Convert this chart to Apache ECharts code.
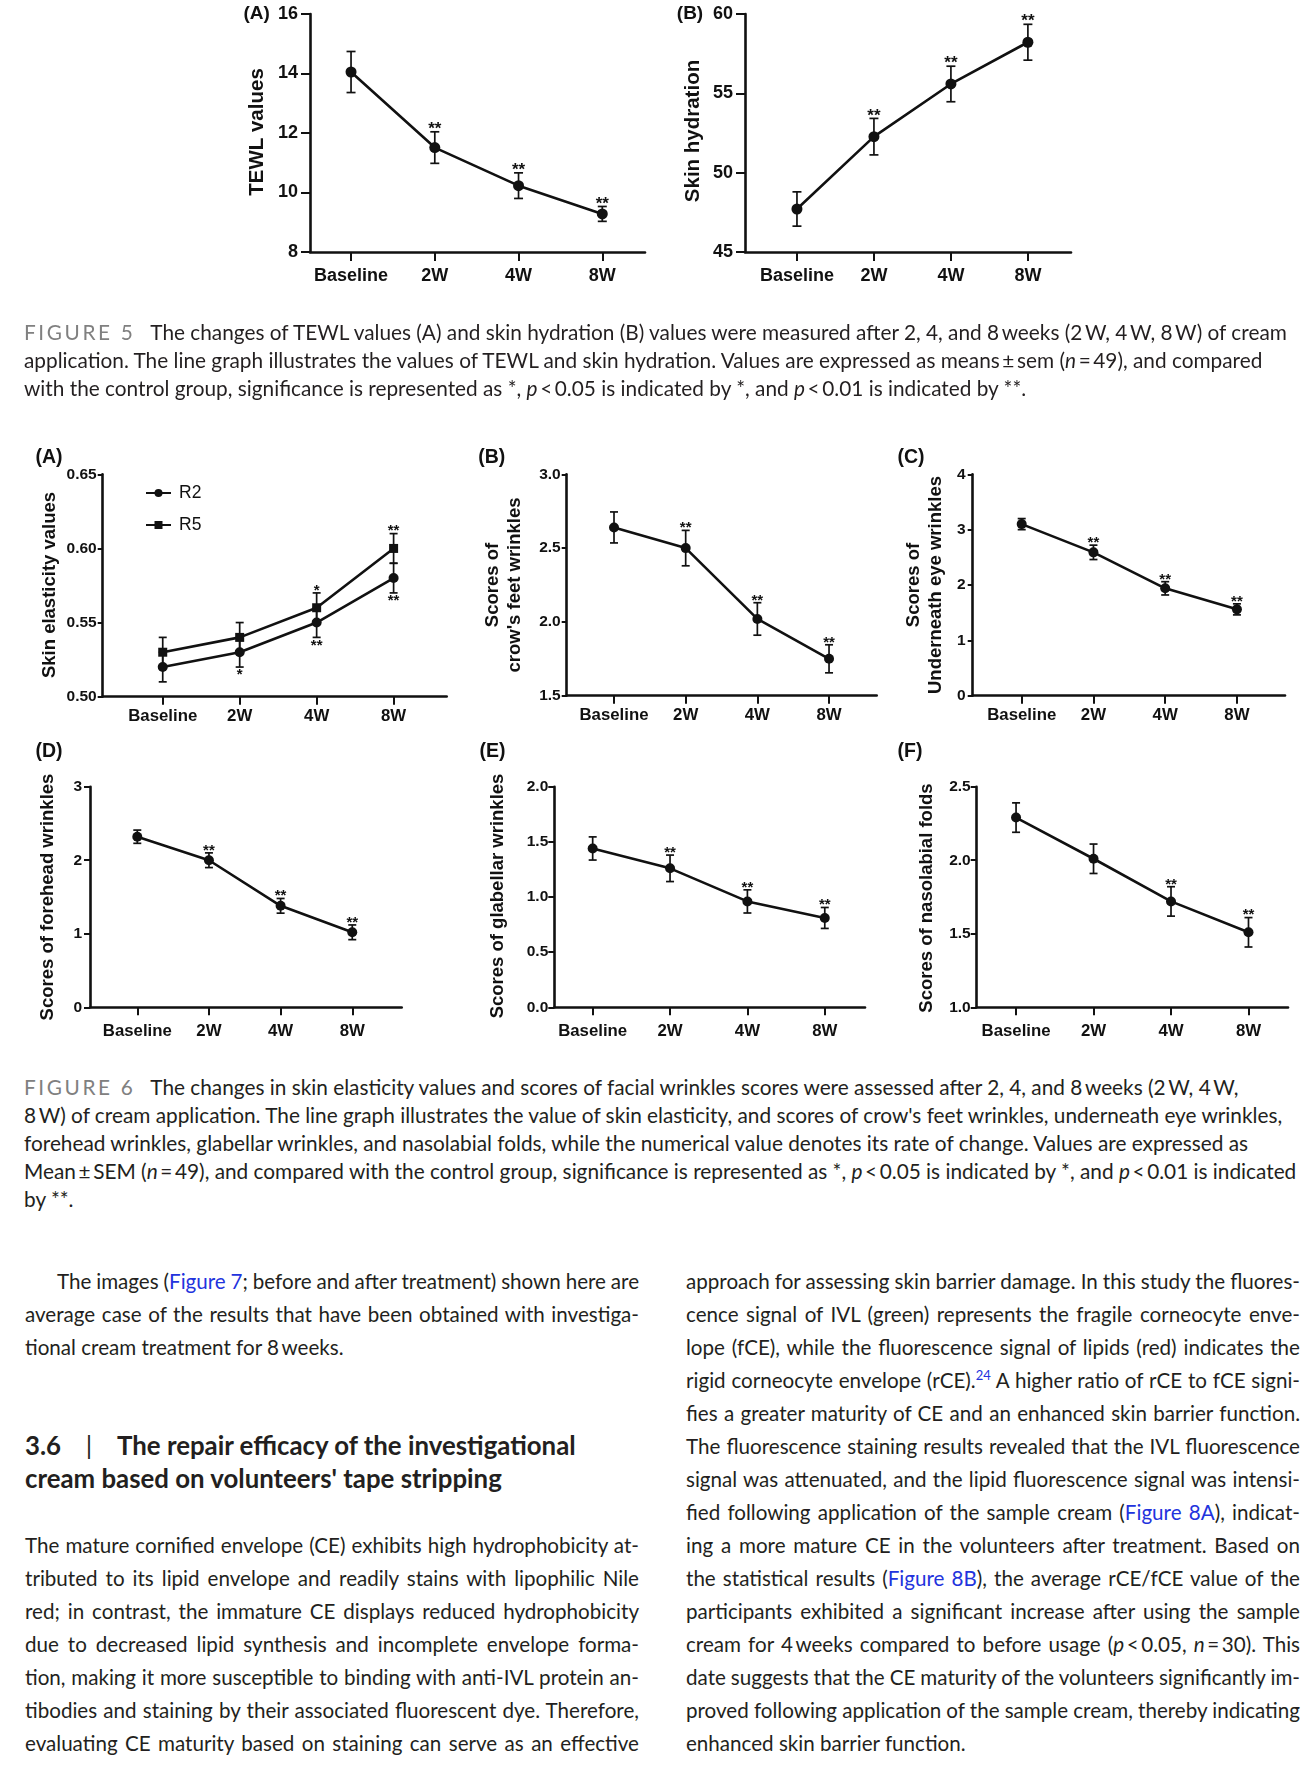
<!DOCTYPE html>
<html>
<head>
<meta charset="utf-8">
<script src="https://cdn.jsdelivr.net/npm/echarts@6/dist/echarts.min.js"></script>
<style>
  html,body{margin:0;padding:0;background:#fff;}
  #page{position:relative;width:1310px;height:1787px;overflow:hidden;background:#fff;}
  #chart{position:absolute;left:0;top:0;width:1310px;height:1060px;}
  .cap{position:absolute;left:24px;font-family:Lato,'Open Sans',sans-serif;font-size:20.8px;line-height:28px;color:#231f20;white-space:nowrap;}
  .fl{color:#808080;letter-spacing:2.6px;margin-right:15px;}
  .col{position:absolute;width:614px;font-family:Lato,'Open Sans',sans-serif;font-size:20.6px;line-height:33px;color:#231f20;}
  .col > div{white-space:nowrap;text-align:left;}
  .ind{padding-left:32px;}
  a{color:#2233dd;text-decoration:none;}
  sup{font-size:13px;line-height:0;color:#2233dd;}
  .hd{position:absolute;left:25px;width:640px;font-family:Lato,'Open Sans',sans-serif;font-size:25.8px;font-weight:700;line-height:33px;color:#231f20;white-space:nowrap;}
  .bar{display:inline-block;width:56px;text-align:center;font-weight:400;}
</style>
</head>
<body>
<div id="page">
<div id="chart"></div>

<div class="cap" style="top:318px">
<div><span class="fl">FIGURE 5</span>The changes of TEWL values (A) and skin hydration (B) values were measured after 2, 4, and 8&#8201;weeks (2&#8201;W, 4&#8201;W, 8&#8201;W) of cream</div>
<div>application. The line graph illustrates the values of TEWL and skin hydration. Values are expressed as means&#8201;±&#8201;sem (<i>n</i>&#8201;=&#8201;49), and compared</div>
<div>with the control group, significance is represented as *, <i>p</i>&#8201;&lt;&#8201;0.05 is indicated by *, and <i>p</i>&#8201;&lt;&#8201;0.01 is indicated by **.</div>
</div>

<div class="cap" style="top:1073px">
<div><span class="fl">FIGURE 6</span>The changes in skin elasticity values and scores of facial wrinkles scores were assessed after 2, 4, and 8&#8201;weeks (2&#8201;W, 4&#8201;W,</div>
<div>8&#8201;W) of cream application. The line graph illustrates the value of skin elasticity, and scores of crow's feet wrinkles, underneath eye wrinkles,</div>
<div>forehead wrinkles, glabellar wrinkles, and nasolabial folds, while the numerical value denotes its rate of change. Values are expressed as</div>
<div>Mean&#8201;±&#8201;SEM (<i>n</i>&#8201;=&#8201;49), and compared with the control group, significance is represented as *, <i>p</i>&#8201;&lt;&#8201;0.05 is indicated by *, and <i>p</i>&#8201;&lt;&#8201;0.01 is indicated</div>
<div>by **.</div>
</div>

<div class="col" style="left:25px;top:1265px">
<div class="j ind">The images (<a>Figure 7</a>; before and after treatment) shown here are</div>
<div class="j">average case of the results that have been obtained with investiga-</div>
<div>tional cream treatment for 8&#8201;weeks.</div>
</div>

<div class="hd" style="top:1429px">
<div><span>3.6</span><span class="bar">|</span>The repair efficacy of the investigational</div>
<div>cream based on volunteers' tape stripping</div>
</div>

<div class="col" style="left:25px;top:1529px">
<div class="j">The mature cornified envelope (CE) exhibits high hydrophobicity at-</div>
<div class="j">tributed to its lipid envelope and readily stains with lipophilic Nile</div>
<div class="j">red; in contrast, the immature CE displays reduced hydrophobicity</div>
<div class="j">due to decreased lipid synthesis and incomplete envelope forma-</div>
<div class="j">tion, making it more susceptible to binding with anti-IVL protein an-</div>
<div class="j">tibodies and staining by their associated fluorescent dye. Therefore,</div>
<div class="j">evaluating CE maturity based on staining can serve as an effective</div>
</div>

<div class="col" style="left:686px;top:1265px">
<div class="j">approach for assessing skin barrier damage. In this study the fluores-</div>
<div class="j">cence signal of IVL (green) represents the fragile corneocyte enve-</div>
<div class="j">lope (fCE), while the fluorescence signal of lipids (red) indicates the</div>
<div class="j">rigid corneocyte envelope (rCE).<sup>24</sup> A higher ratio of rCE to fCE signi-</div>
<div class="j">fies a greater maturity of CE and an enhanced skin barrier function.</div>
<div class="j">The fluorescence staining results revealed that the IVL fluorescence</div>
<div class="j">signal was attenuated, and the lipid fluorescence signal was intensi-</div>
<div class="j">fied following application of the sample cream (<a>Figure 8A</a>), indicat-</div>
<div class="j">ing a more mature CE in the volunteers after treatment. Based on</div>
<div class="j">the statistical results (<a>Figure 8B</a>), the average rCE/fCE value of the</div>
<div class="j">participants exhibited a significant increase after using the sample</div>
<div class="j">cream for 4&#8201;weeks compared to before usage (<i>p</i>&#8201;&lt;&#8201;0.05, <i>n</i>&#8201;=&#8201;30). This</div>
<div class="j">date suggests that the CE maturity of the volunteers significantly im-</div>
<div class="j">proved following application of the sample cream, thereby indicating</div>
<div>enhanced skin barrier function.</div>
</div>
</div>

<script>
// ---------------- DATA ----------------
const categories = ['Baseline', '2W', '4W', '8W'];

// Figure 5
const tewlMean = [14.05, 11.51, 10.23, 9.28];
const tewlSem = [0.69, 0.53, 0.43, 0.25];
const tewlStars = ['', '**', '**', '**'];
const tewlTicks = [8, 16, 2];

const hydrationMean = [47.71, 52.27, 55.59, 58.22];
const hydrationSem = [1.08, 1.15, 1.12, 1.13];
const hydrationStars = ['', '**', '**', '**'];
const hydrationTicks = [45, 60, 5];

// Figure 6
const elasticityR2Mean = [0.52, 0.53, 0.55, 0.58];
const elasticityR2Sem = [0.01, 0.01, 0.01, 0.01];
const elasticityR2Stars = ['', '*', '**', '**'];
const elasticityR5Mean = [0.53, 0.54, 0.56, 0.60];
const elasticityR5Sem = [0.01, 0.01, 0.01, 0.01];
const elasticityR5Stars = ['', '', '*', '**'];
const elasticityTicks = [0.50, 0.65, 0.05];

const crowsFeetMean = [2.64, 2.50, 2.02, 1.75];
const crowsFeetSem = [0.105, 0.12, 0.11, 0.095];
const crowsFeetStars = ['', '**', '**', '**'];
const crowsFeetTicks = [1.5, 3.0, 0.5];

const underEyeMean = [3.10, 2.59, 1.94, 1.56];
const underEyeSem = [0.10, 0.13, 0.12, 0.10];
const underEyeStars = ['', '**', '**', '**'];
const underEyeTicks = [0, 4, 1];

const foreheadMean = [2.32, 2.00, 1.38, 1.02];
const foreheadSem = [0.09, 0.10, 0.10, 0.10];
const foreheadStars = ['', '**', '**', '**'];
const foreheadTicks = [0, 3, 1];

const glabellarMean = [1.44, 1.26, 0.96, 0.81];
const glabellarSem = [0.105, 0.12, 0.105, 0.095];
const glabellarStars = ['', '**', '**', '**'];
const glabellarTicks = [0.0, 2.0, 0.5];

const nasolabialMean = [2.29, 2.01, 1.72, 1.51];
const nasolabialSem = [0.10, 0.10, 0.10, 0.10];
const nasolabialStars = ['', '', '**', '**'];
const nasolabialTicks = [1.0, 2.5, 0.5];

// ---------------- LAYOUT ----------------
const FONT = "'Liberation Sans', Arial, sans-serif";
const INK = '#111';

const panels = [
  { grid: {left: 310, top: 14, width: 335, height: 238}, xr: [-0.49, 3.51], ticks: tewlTicks, dec: 0,
    tickFs: 18, catFs: 18, yMargin: 12, xMargin: 15, yTickLen: 9, xTickLen: 9, sym: 11, cap: 4.5, starFs: 17,
    series: [{name: 'TEWL', mean: tewlMean, sem: tewlSem, above: tewlStars, below: null, symbol: 'circle'}] },
  { grid: {left: 745, top: 14, width: 326, height: 238}, xr: [-0.675, 3.56], ticks: hydrationTicks, dec: 0,
    tickFs: 18, catFs: 18, yMargin: 12, xMargin: 15, yTickLen: 9, xTickLen: 9, sym: 11, cap: 4.5, starFs: 17,
    series: [{name: 'Hydration', mean: hydrationMean, sem: hydrationSem, above: hydrationStars, below: null, symbol: 'circle'}] },
  { grid: {left: 102.7, top: 474.3, width: 344, height: 222.4}, xr: [-0.78, 3.69], ticks: elasticityTicks, dec: 2,
    tickFs: 15.5, catFs: 16.8, yMargin: 6, xMargin: 11, yTickLen: 5, xTickLen: 8, sym: 10, cap: 4, starFs: 15,
    series: [
      {name: 'R2', mean: elasticityR2Mean, sem: elasticityR2Sem, above: null, below: elasticityR2Stars, symbol: 'circle'},
      {name: 'R5', mean: elasticityR5Mean, sem: elasticityR5Sem, above: elasticityR5Stars, below: null, symbol: 'rect'}
    ] },
  { grid: {left: 566.7, top: 474.3, width: 310, height: 221.4}, xr: [-0.66, 3.665], ticks: crowsFeetTicks, dec: 1,
    tickFs: 15.5, catFs: 16.8, yMargin: 6, xMargin: 11, yTickLen: 5, xTickLen: 8, sym: 10, cap: 4, starFs: 15,
    series: [{name: 'CrowsFeet', mean: crowsFeetMean, sem: crowsFeetSem, above: crowsFeetStars, below: null, symbol: 'circle'}] },
  { grid: {left: 972.7, top: 474.3, width: 312.3, height: 221.4}, xr: [-0.683, 3.67], ticks: underEyeTicks, dec: 0,
    tickFs: 15.5, catFs: 16.8, yMargin: 7, xMargin: 11, yTickLen: 5, xTickLen: 8, sym: 10, cap: 4, starFs: 15,
    series: [{name: 'UnderEye', mean: underEyeMean, sem: underEyeSem, above: underEyeStars, below: null, symbol: 'circle'}] },
  { grid: {left: 90, top: 786.7, width: 311.7, height: 220.6}, xr: [-0.66, 3.69], ticks: foreheadTicks, dec: 0,
    tickFs: 15.5, catFs: 16.8, yMargin: 8, xMargin: 16, yTickLen: 6, xTickLen: 8, sym: 10, cap: 4, starFs: 15,
    series: [{name: 'Forehead', mean: foreheadMean, sem: foreheadSem, above: foreheadStars, below: null, symbol: 'circle'}] },
  { grid: {left: 554.3, top: 786.7, width: 310.7, height: 220.6}, xr: [-0.496, 3.52], ticks: glabellarTicks, dec: 1,
    tickFs: 15.5, catFs: 16.8, yMargin: 6, xMargin: 16, yTickLen: 6, xTickLen: 8, sym: 10, cap: 4, starFs: 15,
    series: [{name: 'Glabellar', mean: glabellarMean, sem: glabellarSem, above: glabellarStars, below: null, symbol: 'circle'}] },
  { grid: {left: 976.7, top: 786.7, width: 311.3, height: 220.6}, xr: [-0.508, 3.51], ticks: nasolabialTicks, dec: 1,
    tickFs: 15.5, catFs: 16.8, yMargin: 6, xMargin: 16, yTickLen: 6, xTickLen: 8, sym: 10, cap: 4, starFs: 15,
    series: [{name: 'Nasolabial', mean: nasolabialMean, sem: nasolabialSem, above: nasolabialStars, below: null, symbol: 'circle'}] }
];

const texts = [
  {t: '(A)', x: 256.7, y: 14, fs: 19},
  {t: '(B)', x: 690, y: 14, fs: 19},
  {t: 'TEWL values', x: 257, y: 132, fs: 20.5, rot: true},
  {t: 'Skin hydration', x: 693, y: 131, fs: 20.5, rot: true},
  {t: '(A)', x: 49, y: 458, fs: 19.5},
  {t: '(B)', x: 491.7, y: 458, fs: 19.5},
  {t: '(C)', x: 911, y: 458, fs: 19.5},
  {t: '(D)', x: 49, y: 751.7, fs: 19.5},
  {t: '(E)', x: 492.5, y: 751.7, fs: 19.5},
  {t: '(F)', x: 910, y: 751.7, fs: 19.5},
  {t: 'Skin elasticity values', x: 50, y: 585, fs: 18.5, rot: true},
  {t: "Scores of\ncrow's feet wrinkles", x: 504, y: 585, fs: 18.5, rot: true},
  {t: 'Scores of\nUnderneath eye wrinkles', x: 925, y: 585, fs: 18.5, rot: true},
  {t: 'Scores of forehead wrinkles', x: 48, y: 897, fs: 18.5, rot: true},
  {t: 'Scores of glabellar wrinkles', x: 497.7, y: 896, fs: 18.5, rot: true},
  {t: 'Scores of nasolabial folds', x: 926.7, y: 898, fs: 18.5, rot: true}
];

// ---------------- BUILD ----------------
function errRender(above, below, capHalf, starFs) {
  const sf = 'bold ' + starFs + 'px ' + FONT;
  return function (params, api) {
    const i = params.dataIndex;
    const x = api.value(0), m = api.value(1), s = api.value(2);
    const t = api.coord([x, m + s]);
    const b = api.coord([x, m - s]);
    const st = {stroke: INK, lineWidth: 1.7};
    const ch = [
      {type: 'line', shape: {x1: t[0], y1: t[1], x2: b[0], y2: b[1]}, style: st},
      {type: 'line', shape: {x1: t[0] - capHalf, y1: t[1], x2: t[0] + capHalf, y2: t[1]}, style: st},
      {type: 'line', shape: {x1: b[0] - capHalf, y1: b[1], x2: b[0] + capHalf, y2: b[1]}, style: st}
    ];
    if (above && above[i]) ch.push({type: 'text', x: t[0], y: t[1] + 0.35 * starFs,
      style: {text: above[i], align: 'center', verticalAlign: 'bottom', font: sf, fill: INK}});
    if (below && below[i]) ch.push({type: 'text', x: b[0], y: b[1] + 0.5,
      style: {text: below[i], align: 'center', verticalAlign: 'top', font: sf, fill: INK}});
    return {type: 'group', children: ch};
  };
}

const grids = [], xAxes = [], yAxes = [], series = [];
panels.forEach((p, k) => {
  grids.push(Object.assign({containLabel: false}, p.grid));
  xAxes.push({
    type: 'value', gridIndex: k, min: p.xr[0], max: p.xr[1],
    axisLine: {show: true, onZero: false, lineStyle: {color: INK, width: 2.6}},
    axisTick: {show: true, customValues: [0, 1, 2, 3], length: p.xTickLen, lineStyle: {color: INK, width: 2}},
    axisLabel: {show: true, customValues: [0, 1, 2, 3], margin: p.xMargin,
      formatter: v => categories[Math.round(v)] || '',
      fontFamily: FONT, fontWeight: 'bold', fontSize: p.catFs, color: INK},
    splitLine: {show: false}
  });
  yAxes.push({
    type: 'value', gridIndex: k, min: p.ticks[0], max: p.ticks[1], interval: p.ticks[2],
    axisLine: {show: true, onZero: false, lineStyle: {color: INK, width: 2.6}},
    axisTick: {show: true, length: p.yTickLen, lineStyle: {color: INK, width: 2}},
    axisLabel: {margin: p.yMargin, formatter: v => Number(v).toFixed(p.dec),
      fontFamily: FONT, fontWeight: 'bold', fontSize: p.tickFs, color: INK},
    splitLine: {show: false}
  });
  p.series.forEach(s => {
    series.push({
      type: 'custom', name: s.name + ' sem', xAxisIndex: k, yAxisIndex: k, z: 2, clip: false,
      renderItem: errRender(s.above, s.below, p.cap, p.starFs),
      encode: {x: 0, y: 1},
      data: s.mean.map((v, i) => [i, v, s.sem[i]])
    });
    series.push({
      type: 'line', name: s.name, xAxisIndex: k, yAxisIndex: k, z: 3,
      symbol: s.symbol, symbolSize: s.symbol === 'rect' ? p.sym - 1 : p.sym, showSymbol: true,
      lineStyle: {color: INK, width: 2.6}, itemStyle: {color: INK},
      data: s.mean.map((v, i) => [i, v])
    });
  });
});

const graphics = texts.map(o => ({
  type: 'text', x: o.x, y: o.y, rotation: o.rot ? Math.PI / 2 : 0,
  style: {text: o.t, align: 'center', verticalAlign: 'middle', font: 'bold ' + o.fs + 'px ' + FONT,
    fill: INK, lineHeight: o.fs + 4}
}));

const chart = echarts.init(document.getElementById('chart'), null, {renderer: 'canvas'});
chart.setOption({
  animation: false,
  backgroundColor: '#fff',
  grid: grids,
  xAxis: xAxes,
  yAxis: yAxes,
  legend: {
    data: ['R2', 'R5'], orient: 'vertical', left: 140, top: 479,
    itemWidth: 25, itemHeight: 10, itemGap: 14,
    textStyle: {fontFamily: FONT, fontSize: 17.5, color: INK, padding: [0, 0, 0, 3]}
  },
  graphic: graphics,
  series: series
});

// ---------------- justify body lines (fixed line breaks) ----------------
function justifyLines() {
  document.querySelectorAll('.col > div.j').forEach(el => {
    el.style.wordSpacing = '0px';
    let sp = el.querySelector('span.meas');
    if (!sp) {
      sp = document.createElement('span');
      sp.className = 'meas';
      while (el.firstChild) sp.appendChild(el.firstChild);
      el.appendChild(sp);
    }
    const target = 614 - (el.classList.contains('ind') ? 32 : 0);
    const w = sp.getBoundingClientRect().width;
    const n = (sp.textContent.match(/[ ]/g) || []).length;
    if (n > 0) el.style.wordSpacing = ((target - w) / n) + 'px';
  });
}
justifyLines();
if (document.fonts && document.fonts.ready) document.fonts.ready.then(justifyLines);
window.addEventListener('load', justifyLines);
</script>
</body>
</html>
